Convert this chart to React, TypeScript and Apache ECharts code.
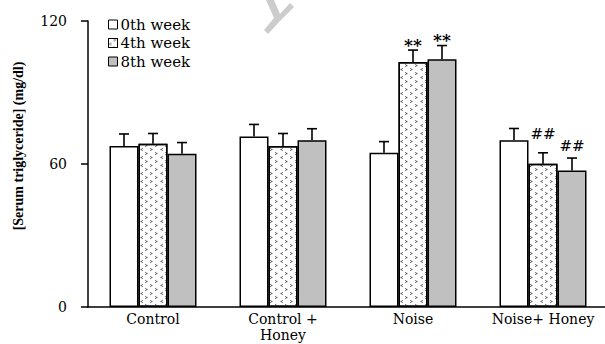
import React, { useEffect, useRef } from 'react';
import * as echarts from 'echarts';

// Groups and weekly serum triglyceride means (mg/dl) with their error bars
const categories = ['Control', 'Control +\nHoney', 'Noise', 'Noise+ Honey'];
const weekNames = ['0th week', '4th week', '8th week'];
const week0 = [67.6, 71.5, 64.7, 70.0];
const week4 = [68.5, 67.6, 102.8, 60.1];
const week8 = [64.3, 70.0, 104.0, 57.3];
const sem0 = [5.0, 5.1, 4.7, 4.9];
const sem4 = [4.3, 5.2, 5.0, 4.6];
const sem8 = [4.7, 4.8, 5.7, 5.2];
const marks0 = ['', '', '', ''];
const marks4 = ['', '', '**', '##'];
const marks8 = ['', '', '**', '##'];
const yMin = 0;
const yMax = 120;
const yStep = 60;
const yTitle = '[Serum triglyceride] (mg/dl)';

const BAR_W = 29;
const SERIF = "'DejaVu Serif', serif";
const TIMES = "'Liberation Serif', serif";

const outline = { borderColor: '#000', borderWidth: 1.5 };

const chevronDecal = {
  symbol: [
    'path://M8,0 L0,4 L8,8 L8,6 L3.5,4 L8,2 Z',
    'path://M0,0 L8,4 L0,8 L0,6 L4.5,4 L0,2 Z',
  ],
  symbolSize: 1,
  symbolKeepAspect: true,
  color: '#444',
  dashArrayX: [[3, 7], [0, 5, 3, 2]],
  dashArrayY: [3, 1],
  rotation: 0,
};

function errorSeries(idx: number, means: number[], sems: number[], marks: string[]) {
  return {
    type: 'custom',
    name: 'err' + idx,
    silent: true,
    z: 5,
    data: means.map((m, i) => [i, m, sems[i]]),
    encode: { x: 0, y: 1 },
    renderItem: (params: any, api: any) => {
      const c = api.value(0);
      const m = api.value(1);
      const s = api.value(2);
      const base = api.coord([c, m]);
      const top = api.coord([c, m + s]);
      const x = base[0] + (idx - 1) * BAR_W;
      const lineStyle = { stroke: '#000', lineWidth: 1.6 };
      const children: any[] = [
        { type: 'line', shape: { x1: x, y1: base[1], x2: x, y2: top[1] }, style: lineStyle },
        { type: 'line', shape: { x1: x - 5, y1: top[1], x2: x + 5, y2: top[1] }, style: lineStyle },
      ];
      const mark = marks[params.dataIndex];
      if (mark) {
        const star = mark.indexOf('*') >= 0;
        // the "##" over the 4th-week bar sits a little higher to clear its neighbour
        const lift = star ? 0 : idx === 1 ? 11 : 5;
        children.push({
          type: 'text',
          x,
          y: top[1] - lift + (star ? 3 : 0),
          style: {
            text: mark,
            align: 'center',
            verticalAlign: 'bottom',
            font: star ? `bold 17px ${SERIF}` : `15px ${SERIF}`,
            fill: '#000',
          },
        });
      }
      return { type: 'group', children };
    },
  };
}

export default function App() {
  const ref = useRef<HTMLDivElement>(null);

  useEffect(() => {
    if (!ref.current) return;
    const chart = echarts.init(ref.current, null, { renderer: 'svg' });
    chart.setOption({
      animation: false,
      backgroundColor: '#fff',
      grid: {
        left: 88,
        right: -3,
        top: 21,
        bottom: 37,
        containLabel: false,
        outerBoundsMode: 'none',
      },
      legend: {
        data: weekNames,
        orient: 'vertical',
        left: 103,
        top: 12,
        icon: 'rect',
        itemWidth: 9,
        itemHeight: 9,
        itemGap: 3.5,
        itemStyle: { borderWidth: 1 },
        textStyle: { fontFamily: SERIF, fontSize: 15, lineHeight: 14, color: '#000', padding: [0, 0, 0, -2] },
      },
      xAxis: {
        type: 'category',
        data: categories,
        axisLine: { lineStyle: { color: '#000', width: 1.5 } },
        axisTick: { show: false },
        axisLabel: { interval: 0, fontFamily: SERIF, fontSize: 14, lineHeight: 16.5, color: '#000', margin: 3.5 },
      },
      yAxis: {
        type: 'value',
        min: yMin,
        max: yMax,
        interval: yStep,
        splitLine: { show: false },
        axisLine: { show: true, lineStyle: { color: '#000', width: 1.5 } },
        axisTick: { show: true, inside: false, length: 7, lineStyle: { color: '#000', width: 1.5 } },
        axisLabel: { fontFamily: SERIF, fontSize: 14, color: '#000', margin: 21 },
      },
      graphic: [
        {
          type: 'text',
          x: 18,
          y: 146,
          rotation: Math.PI / 2,
          style: {
            text: yTitle,
            font: `bold 14px ${TIMES}`,
            fill: '#000',
            align: 'center',
            verticalAlign: 'middle',
          },
        },
        {
          type: 'polygon',
          silent: true,
          shape: {
            points: [
              [266, 0], [274, 0], [280, 14], [290, 3], [294, 7],
              [280, 21], [268, 34], [264, 30], [274, 18],
            ],
          },
          style: { fill: '#cccccc' },
        },
      ],
      series: [
        {
          type: 'bar',
          name: weekNames[0],
          data: week0,
          barWidth: BAR_W,
          barGap: '0%',
          itemStyle: { color: '#ffffff', ...outline },
        },
        {
          type: 'bar',
          name: weekNames[1],
          data: week4,
          barWidth: BAR_W,
          barGap: '0%',
          itemStyle: { color: '#ffffff', ...outline, decal: chevronDecal },
        },
        {
          type: 'bar',
          name: weekNames[2],
          data: week8,
          barWidth: BAR_W,
          barGap: '0%',
          itemStyle: { color: '#c0c0c0', ...outline },
        },
        errorSeries(0, week0, sem0, marks0),
        errorSeries(1, week4, sem4, marks4),
        errorSeries(2, week8, sem8, marks8),
      ],
    });
    return () => chart.dispose();
  }, []);

  return (
    <div
      ref={ref}
      style={{ position: 'fixed', left: 0, top: 0, width: 605, height: 344 }}
    />
  );
}
